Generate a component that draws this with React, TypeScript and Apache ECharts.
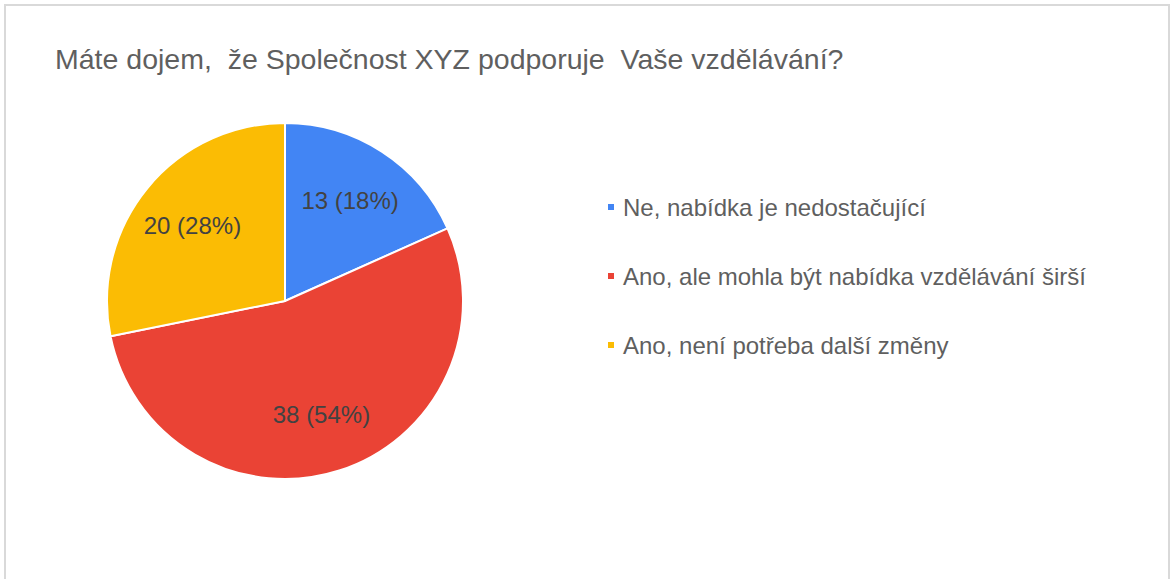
import React, { useEffect, useRef } from "react";
import * as echarts from "echarts";

const titleText = "Máte dojem,  že Společnost XYZ podporuje  Vaše vzdělávání?";
const categories = [
  "Ne, nabídka je nedostačující",
  "Ano, ale mohla být nabídka vzdělávání širší",
  "Ano, není potřeba další změny",
];
const values = [13, 38, 20];
const colors = ["#4285F4", "#EA4335", "#FBBC04"];

const CX = 285;
const CY = 301;

export default function App() {
  const ref = useRef<HTMLDivElement>(null);
  useEffect(() => {
    document.body.style.margin = "0";
    const chart = echarts.init(ref.current!, null, { renderer: "svg" });
    const total = values.reduce((a, b) => a + b, 0);
    chart.setOption({
      animation: false,
      backgroundColor: "#ffffff",
      title: {
        text: titleText,
        left: 50,
        top: 39,
        textStyle: {
          fontFamily: "Liberation Sans, Arial, sans-serif",
          fontSize: 28.5,
          fontWeight: "normal",
          color: "#5f5f5f",
        },
      },
      graphic: [
        {
          type: "rect",
          shape: { x: 5, y: 5, width: 1164, height: 620 },
          style: { fill: "none", stroke: "#d9d9d9", lineWidth: 2 },
          silent: true,
        },
      ],
      legend: {
        orient: "vertical",
        left: 601,
        top: 190,
        icon: "rect",
        itemWidth: 8,
        itemHeight: 8,
        itemGap: 45,
        selectedMode: false,
        textStyle: {
          fontFamily: "Liberation Sans, Arial, sans-serif",
          fontSize: 24,
          color: "#5f5f5f",
          padding: [0, 0, 0, 3],
        },
        data: categories,
      },
      series: [
        {
          type: "pie",
          center: [CX, CY],
          radius: 178,
          startAngle: 90,
          clockwise: true,
          itemStyle: { borderColor: "#ffffff", borderWidth: 2 },
          label: {
            show: true,
            position: "inside",
            align: "center",
            verticalAlign: "middle",
            fontFamily: "Liberation Sans, Arial, sans-serif",
            fontSize: 24,
            color: "#424242",
            formatter: (p: any) =>
              `${p.value} (${Math.round((p.value / total) * 100)}%)`,
          },
          labelLayout: (p: any) => {
            const r = p.labelRect;
            const lx = r.x + r.width / 2;
            const ly = r.y + r.height / 2;
            const k = 1.3;
            return { x: CX + (lx - CX) * k, y: CY + (ly - CY) * k };
          },
          labelLine: { show: false },
          data: categories.map((name, i) => ({
            name,
            value: values[i],
            itemStyle: { color: colors[i] },
          })),
        },
      ],
    });
    return () => chart.dispose();
  }, []);
  return <div ref={ref} style={{ width: 1171, height: 579 }} />;
}
